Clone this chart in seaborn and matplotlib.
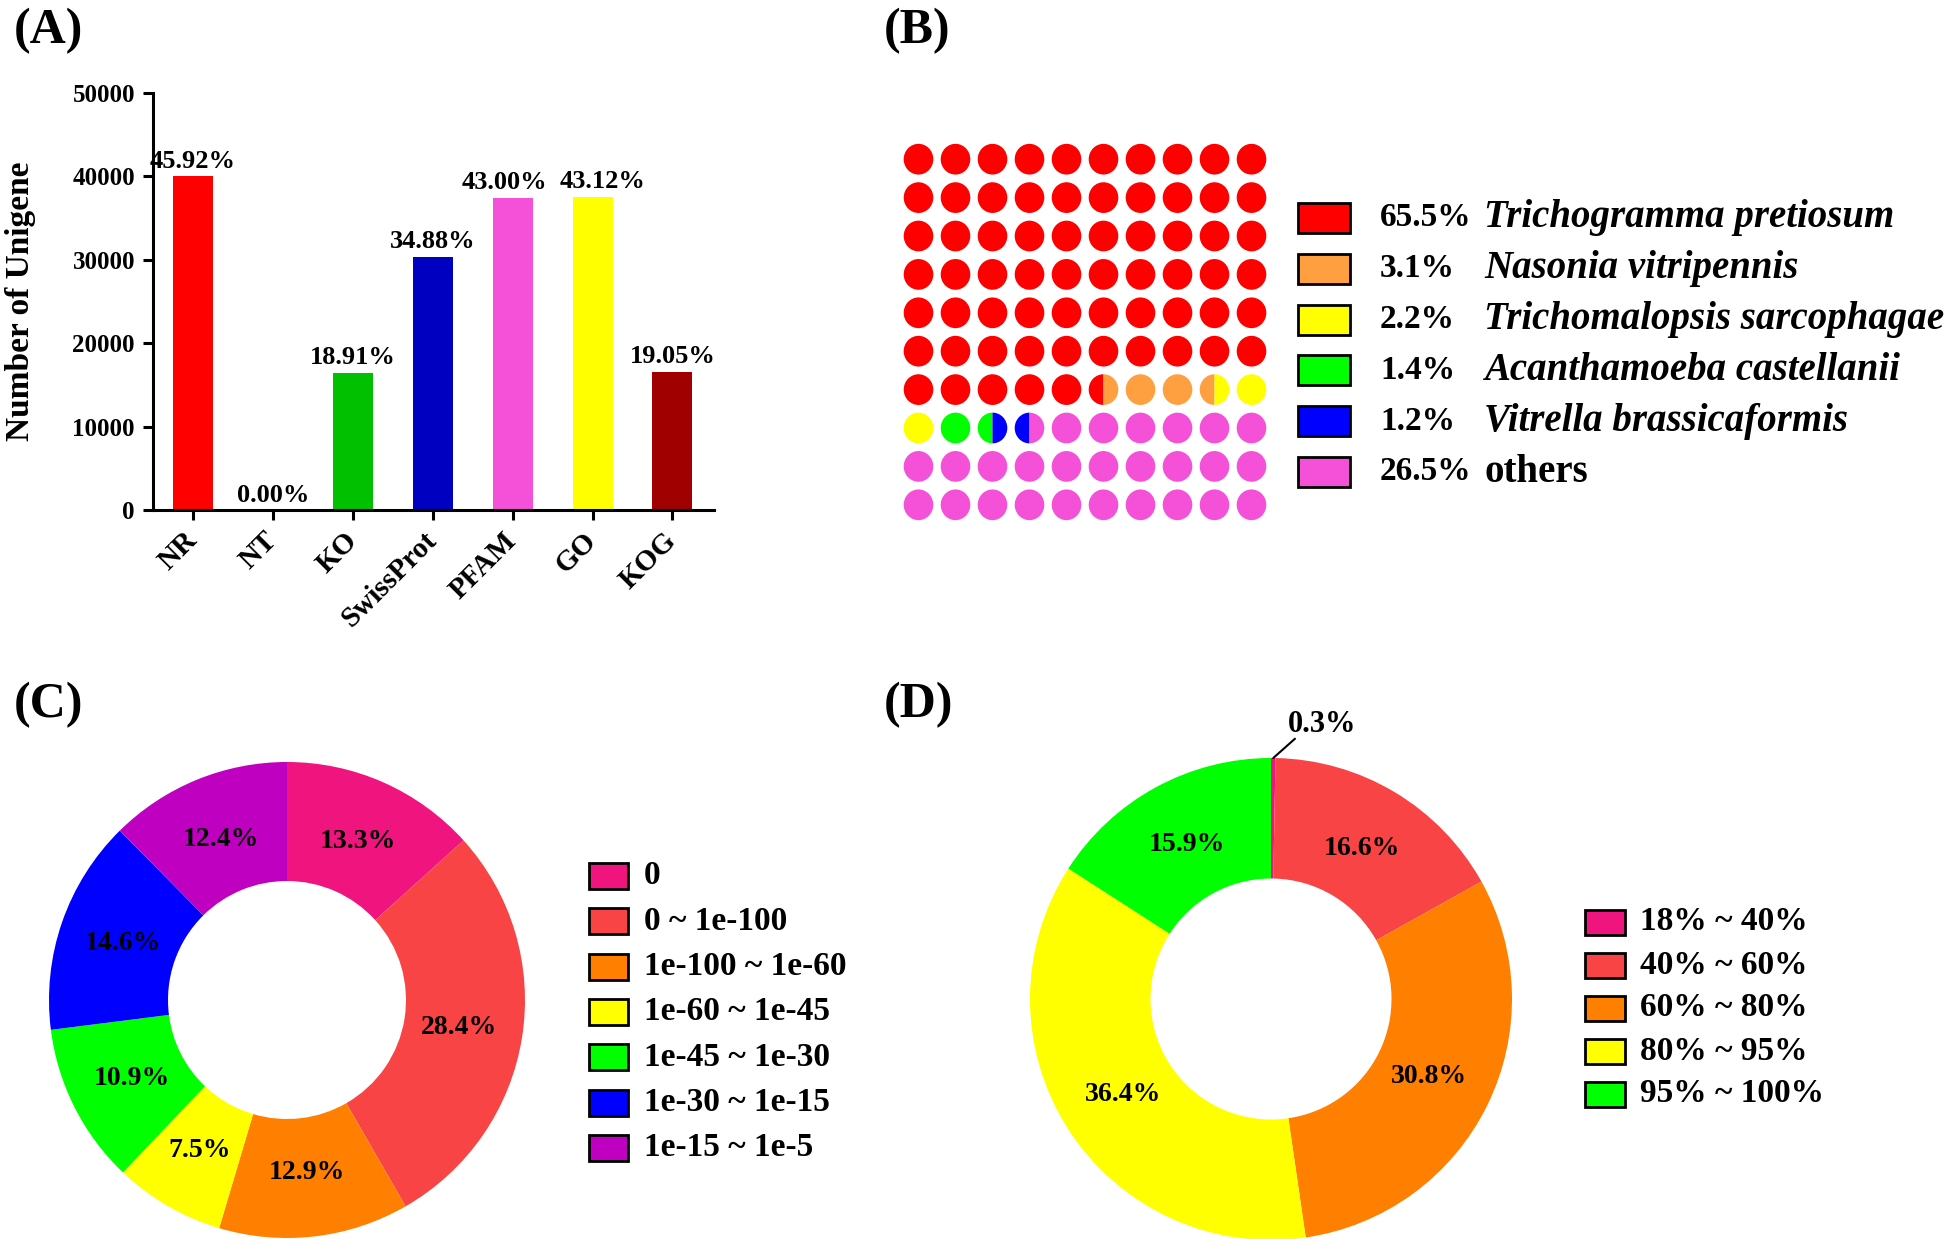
import numpy as np
import pandas as pd
import matplotlib
matplotlib.use('Agg')
import matplotlib.pyplot as plt
from matplotlib.patches import Rectangle, Wedge, Circle
import seaborn as sns

# (A) annotation of unigenes in the databases
databases = ['NR', 'NT', 'KO', 'SwissProt', 'PFAM', 'GO', 'KOG']
unigene_counts = [40000, 0, 16470, 30380, 37460, 37560, 16590]
annot_pct = ['45.92%', '0.00%', '18.91%', '34.88%', '43.00%', '43.12%', '19.05%']
bar_colors = ['#FF0000', '#808080', '#00C000', '#0000C0', '#F550D8', '#FFFF00', '#A00000']

# (B) species distribution of NR hits
species = ['Trichogramma pretiosum', 'Nasonia vitripennis', 'Trichomalopsis sarcophagae',
           'Acanthamoeba castellanii', 'Vitrella brassicaformis', 'others']
species_pct = [65.5, 3.1, 2.2, 1.4, 1.2, 26.5]
species_colors = ['#FF0000', '#FFA040', '#FFFF00', '#00FF00', '#0000FF', '#F550D8']

# (C) E-value distribution
evalue_bins = ['0', '0 ~ 1e-100', '1e-100 ~ 1e-60', '1e-60 ~ 1e-45',
               '1e-45 ~ 1e-30', '1e-30 ~ 1e-15', '1e-15 ~ 1e-5']
evalue_pct = [13.3, 28.4, 12.9, 7.5, 10.9, 14.6, 12.4]
evalue_colors = ['#F0147F', '#F84444', '#FF8000', '#FFFF00', '#00FF00', '#0000FF', '#C000C0']

# (D) similarity distribution
sim_bins = ['18% ~ 40%', '40% ~ 60%', '60% ~ 80%', '80% ~ 95%', '95% ~ 100%']
sim_pct = [0.3, 16.6, 30.8, 36.4, 15.9]
sim_colors = ['#F0147F', '#F84444', '#FF8000', '#FFFF00', '#00FF00']

W, H = 1946, 1239
sns.set_style('ticks')
plt.rcParams['font.family'] = ['Liberation Serif', 'DejaVu Serif']
plt.rcParams['font.weight'] = 'bold'
plt.rcParams['axes.labelweight'] = 'bold'
for key in ['text.color', 'axes.labelcolor', 'xtick.color', 'ytick.color', 'axes.edgecolor']:
    plt.rcParams[key] = 'black'

fig = plt.figure(figsize=(W / 100, H / 100), dpi=100)


def rect(x0, y0, x1, y1):
    """pixel box (top-left origin) -> figure fraction rect"""
    return [x0 / W, 1 - y1 / H, (x1 - x0) / W, (y1 - y0) / H]


# overlay for panel letters and hand-made legends (pixel coordinates)
ov = fig.add_axes([0, 0, 1, 1])
ov.set_xlim(0, W)
ov.set_ylim(H, 0)
ov.axis('off')

for lab, (x, y) in zip(['(A)', '(B)', '(C)', '(D)'],
                       [(14, 8), (884, 8), (14, 682), (884, 682)]):
    ov.text(x, y, lab, fontsize=36, fontweight='bold', ha='left', va='top')

# ---------------- (A) bar chart ----------------
axA = fig.add_axes(rect(153, 93, 714, 510))
df_a = pd.DataFrame({'db': databases, 'count': unigene_counts})
sns.barplot(data=df_a, x='db', y='count', hue='db', palette=bar_colors, legend=False,
            width=0.5, saturation=1, linewidth=0, ax=axA)
# PFAM / GO labels are pushed apart a little so they do not touch
nudge = {'PFAM': -0.1, 'GO': 0.12}
for i, (db, c, p) in enumerate(zip(databases, unigene_counts, annot_pct)):
    axA.text(i + nudge.get(db, 0), c + 400, p, ha='center', va='bottom',
             fontsize=19, fontweight='bold')
axA.set_xlim(-0.5, 6.52)
axA.set_ylim(0, 50000)
axA.set_yticks(np.arange(0, 50001, 10000))
sns.despine(ax=axA)
for s in ['left', 'bottom']:
    axA.spines[s].set_linewidth(2.2)
axA.tick_params(direction='out', length=7, width=2.2, labelsize=18, pad=6)
axA.set_xticks(range(len(databases)))
axA.set_xticklabels(databases, rotation=45, ha='right', va='center',
                    rotation_mode='anchor', fontsize=21)
axA.tick_params(axis='x', pad=12)
axA.set_xlabel('')
axA.set_ylabel('Number of Unigene', fontsize=24, fontweight='bold', labelpad=26)

# ---------------- (B) waffle ----------------
axB = fig.add_axes(rect(900, 140, 1270, 524))
half = np.array(species_pct) * 2
counts = np.floor(half).astype(int)
short = 200 - counts.sum()
order = np.argsort(-(half - counts), kind='stable')
counts[order[:short]] += 1
halves = np.repeat(np.arange(len(species)), counts)
r = 0.4
for k in range(100):
    row, col = divmod(k, 10)
    left, right = halves[2 * k], halves[2 * k + 1]
    if left == right:
        axB.add_patch(Circle((col, row), r, facecolor=species_colors[left], lw=0))
    else:
        axB.add_patch(Wedge((col, row), r, 90, 270, facecolor=species_colors[left], lw=0))
        axB.add_patch(Wedge((col, row), r, 270, 90, facecolor=species_colors[right], lw=0))
axB.set_xlim(-0.5, 9.5)
axB.set_ylim(9.5, -0.5)
axB.axis('off')

for i, (name, p, c) in enumerate(zip(species, species_pct, species_colors)):
    yc = 218 + 50.8 * i
    ov.add_patch(Rectangle((1298, yc - 15), 52, 30, facecolor=c, edgecolor='black', lw=2))
    ov.text(1380, yc, f'{p}%', fontsize=24, fontweight='bold', ha='left', va='center')
    ov.text(1484, yc, name, fontsize=28, fontweight='bold', ha='left', va='center',
            style='normal' if name == 'others' else 'italic')

# ---------------- (C) E-value donut ----------------
axC = fig.add_axes(rect(49, 762, 525, 1238))
axC.pie(evalue_pct, colors=evalue_colors, startangle=90, counterclock=False,
        wedgeprops=dict(width=0.5, linewidth=0), autopct='%.1f%%', pctdistance=0.73,
        textprops=dict(fontsize=20, fontweight='bold', color='black'))
axC.set_xlim(-1, 1)
axC.set_ylim(-1, 1)
for i, (lab, c) in enumerate(zip(evalue_bins, evalue_colors)):
    yc = 876 + 45.3 * i
    ov.add_patch(Rectangle((589, yc - 13), 39, 26, facecolor=c, edgecolor='black', lw=2))
    ov.text(644, yc, lab, fontsize=24, fontweight='bold', ha='left', va='center')

# ---------------- (D) similarity donut ----------------
axD = fig.add_axes(rect(1030, 758, 1512, 1240))
wedges, _, _ = axD.pie(sim_pct, colors=sim_colors, startangle=90, counterclock=False,
                       wedgeprops=dict(width=0.5, linewidth=0),
                       autopct=lambda p: f'{p:.1f}%' if p >= 1 else '', pctdistance=0.73,
                       textprops=dict(fontsize=20, fontweight='bold', color='black'))
w0 = wedges[0]
ang = np.deg2rad((w0.theta1 + w0.theta2) / 2)
x0, y0 = np.cos(ang), np.sin(ang)
axD.plot([x0, x0 + 0.09], [y0, y0 + 0.08], color='black', lw=1.5, clip_on=False)
axD.text(x0 + 0.06, y0 + 0.08, f'{sim_pct[0]}%', fontsize=22, fontweight='bold',
         ha='left', va='bottom')
axD.set_xlim(-1, 1)
axD.set_ylim(-1, 1)
for i, (lab, c) in enumerate(zip(sim_bins, sim_colors)):
    yc = 922 + 43 * i
    ov.add_patch(Rectangle((1585, yc - 12.5), 40, 25, facecolor=c, edgecolor='black', lw=2))
    ov.text(1640, yc, lab, fontsize=24, fontweight='bold', ha='left', va='center')

fig.savefig('out.png', dpi=100)
